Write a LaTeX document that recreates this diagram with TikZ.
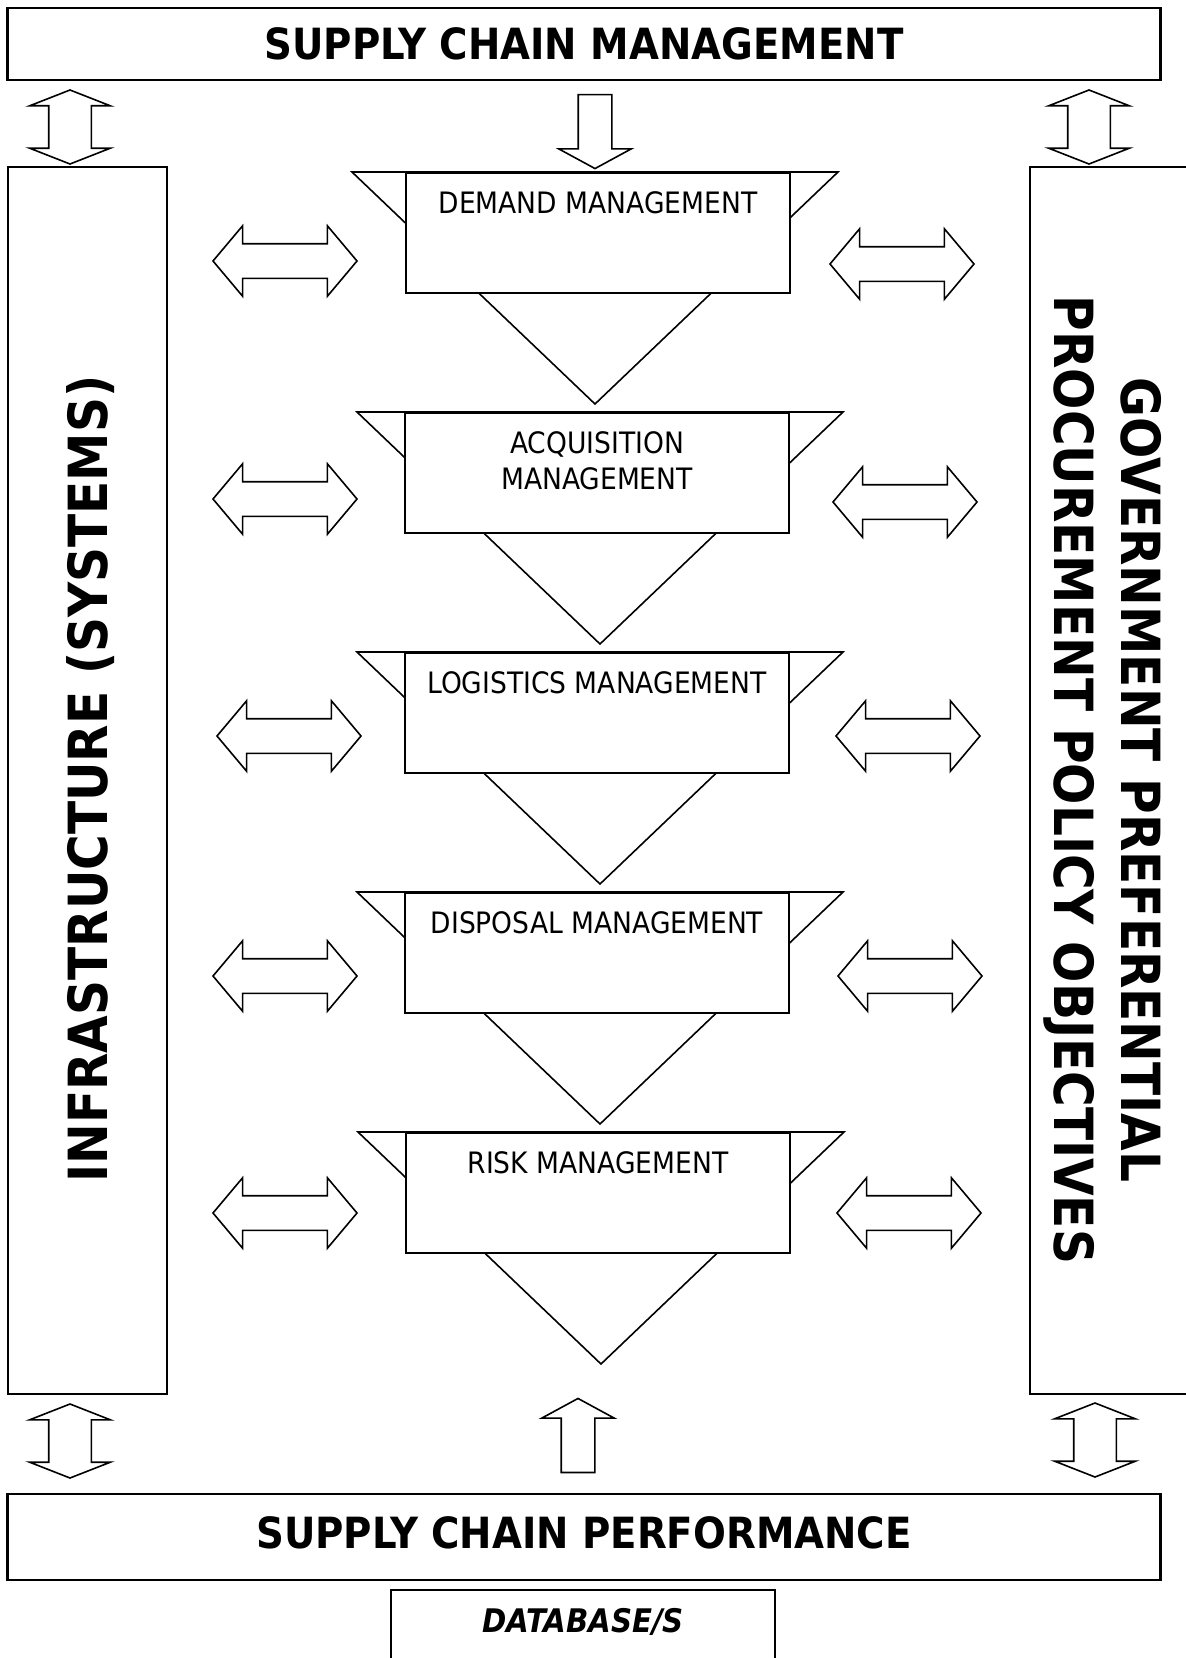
\documentclass[tikz,border=0pt]{standalone}
\usepackage{fontspec}
\setmainfont{DejaVuSansCondensed}[Extension=.ttf, BoldFont=*-Bold, ItalicFont=*-Oblique, BoldItalicFont=*-BoldOblique]
\usepackage{tikz}
\usetikzlibrary{shapes.arrows}

\begin{document}
\begin{tikzpicture}[x=1pt,y=-1pt]
    \tikzstyle{panel}=[draw,line width=2pt,inner sep=0pt]
    \tikzstyle{banner}=[panel,line width=2.4pt,font=\bfseries\fontsize{43}{50}\selectfont]
    \tikzstyle{pillar}=[panel,minimum height=1227pt]
    \tikzstyle{pillar text}=[inner sep=0pt,align=center,font=\bfseries\fontsize{54}{67}\selectfont]
    \tikzstyle{stage}=[panel,fill=white,minimum width=384pt,minimum height=120pt,anchor=north]
    \tikzstyle{stage text}=[inner sep=0pt,align=center,anchor=north,yshift=-19pt,font=\fontsize{29.5}{36}\selectfont]
    \tikzstyle{funnel}=[draw,fill=white,line width=1.6pt]
    \tikzstyle{fat}=[draw,line width=1.6pt,inner xsep=0pt]
    \tikzstyle{side arrow}=[fat,double arrow,inner ysep=16.5pt,double arrow head extend=18pt,double arrow tip angle=99.9,minimum height=144pt]
    \tikzstyle{link arrow}=[fat,double arrow,rotate=90,inner ysep=20.5pt,double arrow head extend=19pt,double arrow tip angle=137.2,minimum height=74pt]
    \tikzstyle{flow arrow}=[fat,single arrow,inner ysep=16pt,single arrow head extend=19.5pt,single arrow tip angle=123,minimum height=74pt]

    \useasboundingbox (0,0) rectangle (1186,1658);

    % Banners and side pillars
    \node[banner,minimum width=1153pt,minimum height=72pt] (SCM) at (584,44) {SUPPLY CHAIN MANAGEMENT};
    \node[banner,minimum width=1153pt,minimum height=86pt] (SCP) at (584,1537) {};
    \node[inner sep=0pt,font=\bfseries\fontsize{43}{50}\selectfont] (SCP-T) at (584,1533) {SUPPLY CHAIN PERFORMANCE};
    \node[panel,minimum width=384pt,minimum height=100pt,
          label={[stage text,font=\bfseries\itshape\fontsize{32.5}{36}\selectfont]north:DATABASE/S}] (DB) at (583,1640) {};
    \node[pillar,minimum width=159pt] (INF) at (87,780) {};
    \node[pillar,minimum width=170pt] (GOV) at (1115,780) {};
    \node[pillar text,rotate=90] (INF-T) at (91,779) {INFRASTRUCTURE (SYSTEMS)};
    \node[pillar text,rotate=-90] (GOV-T) at (1103,780) {GOVERNMENT PREFERENTIAL\\PROCUREMENT POLICY OBJECTIVES};

    % Links between banners and the rest
    \node[link arrow] (TL) at (70,127) {};
    \node[flow arrow,rotate=-90] (TC) at (595,127) {};
    \node[link arrow] (TR) at (1089,127) {};
    \node[link arrow] (BL) at (70,1441) {};
    \node[flow arrow,rotate=90] (BC) at (578,1440) {};
    \node[link arrow] (BR) at (1095,1440) {};

    % Stage 1
    \coordinate (F-1) at (595,172);
    \draw[funnel] (F-1) ++(-243,0) -- ++(486,0) -- ++(-243,232) -- cycle;
    \node[stage,label={[stage text]north:DEMAND MANAGEMENT}] (S-1) at (598,172) {};
    \node[side arrow] (L-1) at (285,261) {};
    \node[side arrow] (R-1) at (902,264) {};
    % Stage 2
    \coordinate (F-2) at (600,412);
    \draw[funnel] (F-2) ++(-243,0) -- ++(486,0) -- ++(-243,232) -- cycle;
    \node[stage,label={[stage text]north:{ACQUISITION\\MANAGEMENT}}] (S-2) at (597,412) {};
    \node[side arrow] (L-2) at (285,499) {};
    \node[side arrow] (R-2) at (905,502) {};
    % Stage 3
    \coordinate (F-3) at (600,652);
    \draw[funnel] (F-3) ++(-243,0) -- ++(486,0) -- ++(-243,232) -- cycle;
    \node[stage,label={[stage text]north:LOGISTICS MANAGEMENT}] (S-3) at (597,652) {};
    \node[side arrow] (L-3) at (289,736) {};
    \node[side arrow] (R-3) at (908,736) {};
    % Stage 4
    \coordinate (F-4) at (600,892);
    \draw[funnel] (F-4) ++(-243,0) -- ++(486,0) -- ++(-243,232) -- cycle;
    \node[stage,label={[stage text]north:DISPOSAL MANAGEMENT}] (S-4) at (597,892) {};
    \node[side arrow] (L-4) at (285,976) {};
    \node[side arrow] (R-4) at (910,976) {};
    % Stage 5
    \coordinate (F-5) at (601,1132);
    \draw[funnel] (F-5) ++(-243,0) -- ++(486,0) -- ++(-243,232) -- cycle;
    \node[stage,label={[stage text]north:RISK MANAGEMENT}] (S-5) at (598,1132) {};
    \node[side arrow] (L-5) at (285,1213) {};
    \node[side arrow] (R-5) at (909,1213) {};
\end{tikzpicture}
\end{document}
